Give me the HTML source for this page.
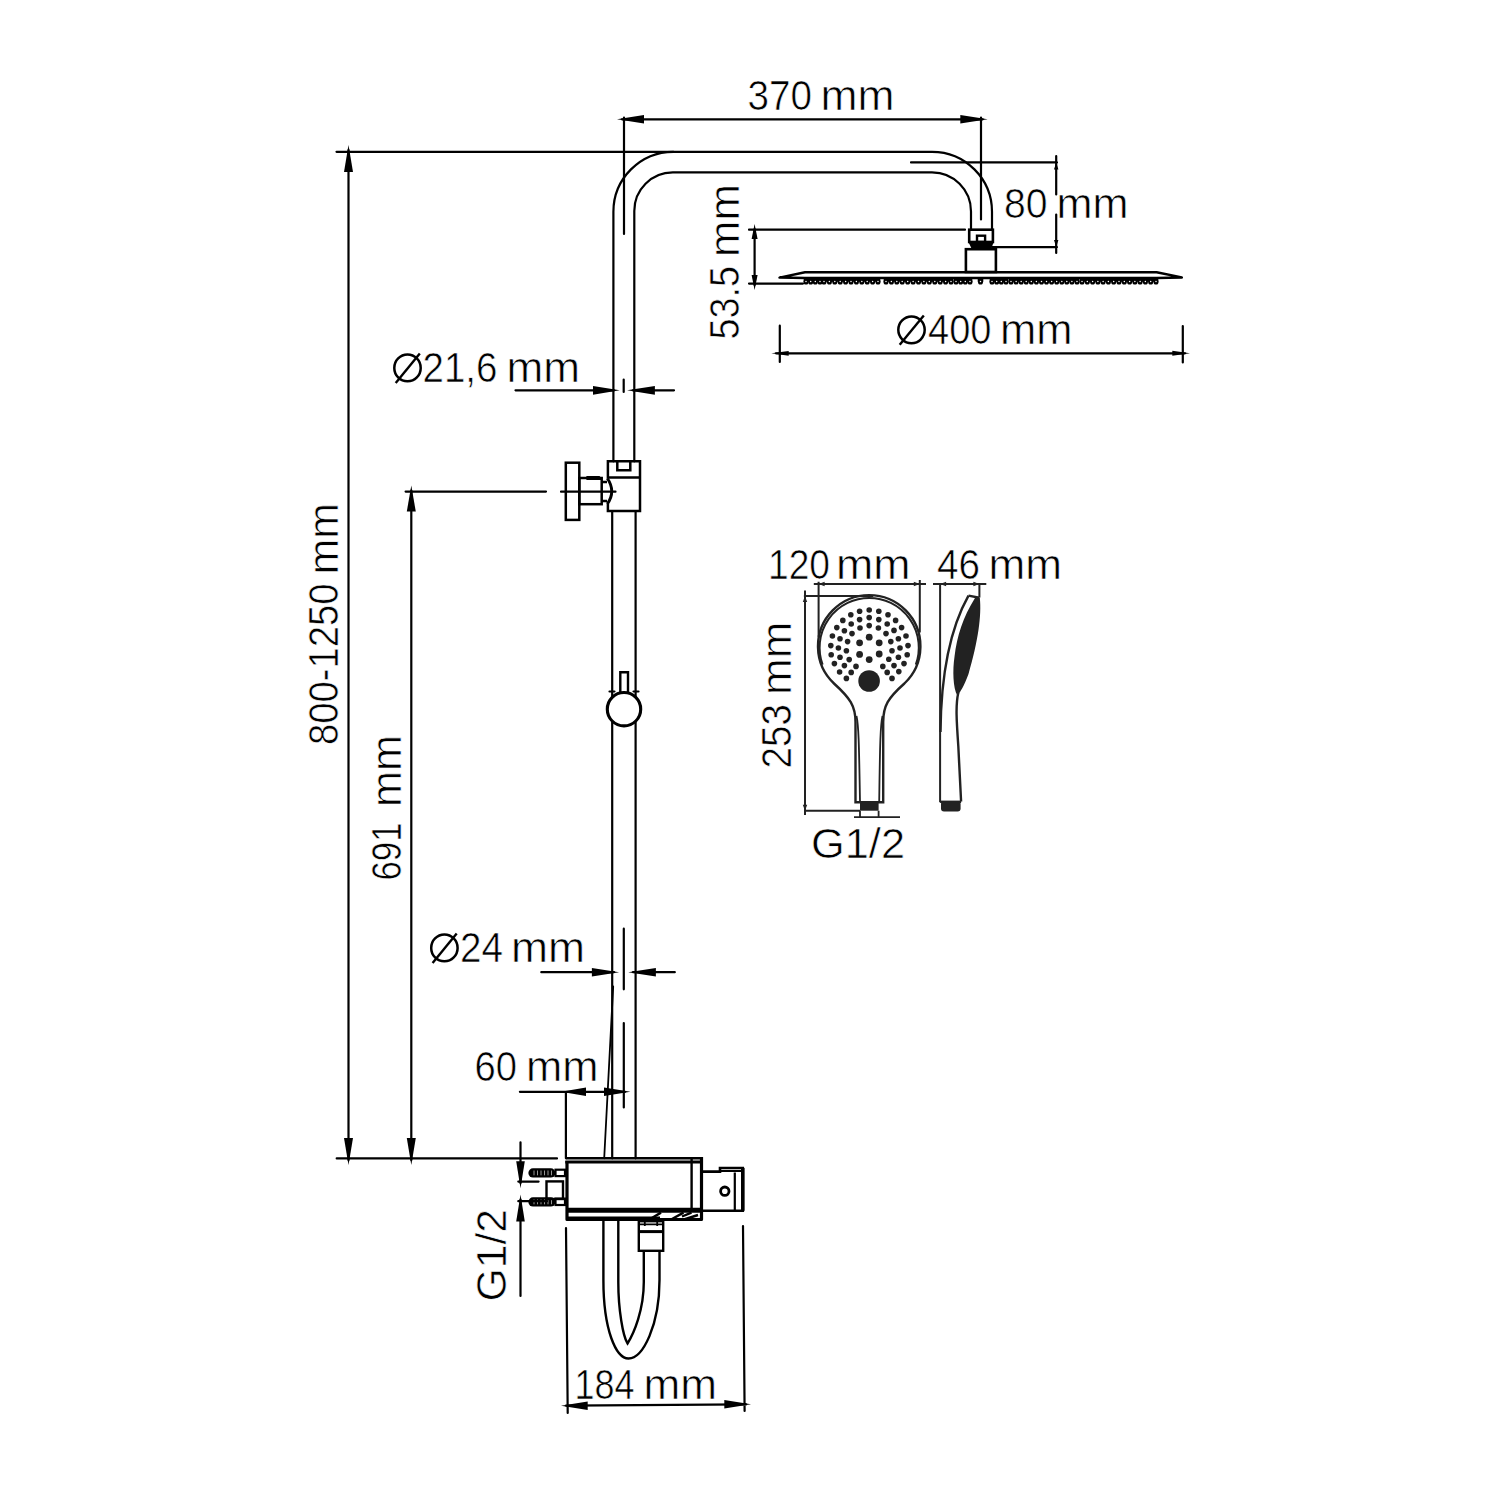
<!DOCTYPE html>
<html><head><meta charset="utf-8"><title>Shower system drawing</title>
<style>
html,body{margin:0;padding:0;background:#fff;width:1500px;height:1500px;overflow:hidden;}
svg{display:block;}
text{font-family:"Liberation Sans",sans-serif;font-size:40px;fill:#000;stroke:#fff;stroke-width:0.6px;}
.ln{fill:none;stroke:#000;stroke-width:2.2;stroke-linecap:round;}
.th{fill:none;stroke:#000;stroke-width:2.8;}
.ar{fill:#000;stroke:none;}
.hs{fill:none;stroke:#222;stroke-width:2.4;}
.hsf{fill:#222;stroke:none;}
</style></head><body>
<svg width="1500" height="1500" viewBox="0 0 1500 1500">
<rect x="0" y="0" width="1500" height="1500" fill="#fff"/>
<text transform="translate(747.50 110.00) scale(1 1.050)" x="0" y="0" textLength="64.50" lengthAdjust="spacingAndGlyphs">370</text>
<text transform="translate(820.50 110.00) scale(1 1.050)" x="0" y="0" textLength="74.00" lengthAdjust="spacingAndGlyphs">mm</text>
<text transform="translate(1004.00 218.00) scale(1 1.050)" x="0" y="0" textLength="43.50" lengthAdjust="spacingAndGlyphs">80</text>
<text transform="translate(1056.50 218.00) scale(1 1.050)" x="0" y="0" textLength="72.00" lengthAdjust="spacingAndGlyphs">mm</text>
<text transform="translate(928.00 344.30) scale(1 1.050)" x="0" y="0" textLength="63.50" lengthAdjust="spacingAndGlyphs">400</text>
<text transform="translate(1000.00 344.30) scale(1 1.050)" x="0" y="0" textLength="72.50" lengthAdjust="spacingAndGlyphs">mm</text>
<text transform="translate(422.50 381.80) scale(1 1.050)" x="0" y="0" textLength="75.00" lengthAdjust="spacingAndGlyphs">21,6</text>
<text transform="translate(506.50 381.80) scale(1 1.050)" x="0" y="0" textLength="73.50" lengthAdjust="spacingAndGlyphs">mm</text>
<text transform="translate(460.00 961.80) scale(1 1.050)" x="0" y="0" textLength="43.00" lengthAdjust="spacingAndGlyphs">24</text>
<text transform="translate(511.00 961.80) scale(1 1.050)" x="0" y="0" textLength="74.00" lengthAdjust="spacingAndGlyphs">mm</text>
<text transform="translate(474.50 1080.60) scale(1 1.050)" x="0" y="0" textLength="42.50" lengthAdjust="spacingAndGlyphs">60</text>
<text transform="translate(526.00 1080.60) scale(1 1.050)" x="0" y="0" textLength="72.50" lengthAdjust="spacingAndGlyphs">mm</text>
<text transform="translate(574.50 1398.90) scale(1 1.050)" x="0" y="0" textLength="60.00" lengthAdjust="spacingAndGlyphs">184</text>
<text transform="translate(643.50 1398.90) scale(1 1.050)" x="0" y="0" textLength="73.50" lengthAdjust="spacingAndGlyphs">mm</text>
<text transform="translate(768.00 578.90) scale(1 1.050)" x="0" y="0" textLength="62.00" lengthAdjust="spacingAndGlyphs">120</text>
<text transform="translate(836.00 578.90) scale(1 1.050)" x="0" y="0" textLength="74.50" lengthAdjust="spacingAndGlyphs">mm</text>
<text transform="translate(937.00 578.90) scale(1 1.050)" x="0" y="0" textLength="43.00" lengthAdjust="spacingAndGlyphs">46</text>
<text transform="translate(988.50 578.90) scale(1 1.050)" x="0" y="0" textLength="73.50" lengthAdjust="spacingAndGlyphs">mm</text>
<text transform="translate(811.00 857.80) scale(1 1.050)" x="0" y="0" textLength="94.00" lengthAdjust="spacingAndGlyphs">G1/2</text>
<text transform="translate(739.00 339.50) rotate(-90) scale(1 1.050)" x="0" y="0" textLength="73.50" lengthAdjust="spacingAndGlyphs">53.5</text>
<text transform="translate(739.00 257.00) rotate(-90) scale(1 1.050)" x="0" y="0" textLength="73.00" lengthAdjust="spacingAndGlyphs">mm</text>
<text transform="translate(337.50 745.00) rotate(-90) scale(1 1.050)" x="0" y="0" textLength="161.50" lengthAdjust="spacingAndGlyphs">800-1250</text>
<text transform="translate(337.50 574.50) rotate(-90) scale(1 1.050)" x="0" y="0" textLength="71.50" lengthAdjust="spacingAndGlyphs">mm</text>
<text transform="translate(401.40 880.50) rotate(-90) scale(1 1.050)" x="0" y="0" textLength="58.00" lengthAdjust="spacingAndGlyphs">691</text>
<text transform="translate(401.40 807.00) rotate(-90) scale(1 1.050)" x="0" y="0" textLength="72.00" lengthAdjust="spacingAndGlyphs">mm</text>
<text transform="translate(790.50 768.50) rotate(-90) scale(1 1.050)" x="0" y="0" textLength="64.50" lengthAdjust="spacingAndGlyphs">253</text>
<text transform="translate(790.50 695.00) rotate(-90) scale(1 1.050)" x="0" y="0" textLength="73.50" lengthAdjust="spacingAndGlyphs">mm</text>
<text transform="translate(506.30 1301.50) rotate(-90) scale(1 1.050)" x="0" y="0" textLength="92.50" lengthAdjust="spacingAndGlyphs">G1/2</text>
<ellipse cx="911.5" cy="329.8" rx="13.2" ry="13.4" fill="none" stroke="#000" stroke-width="2.5"/>
<path d="M899.7 344.8 L923.8 315.5" stroke="#000" stroke-width="2.4"/>
<ellipse cx="407.5" cy="367.9" rx="13.2" ry="13.4" fill="none" stroke="#000" stroke-width="2.5"/>
<path d="M395.7 382.9 L419.8 353.6" stroke="#000" stroke-width="2.4"/>
<ellipse cx="444.4" cy="947.9" rx="13.2" ry="13.4" fill="none" stroke="#000" stroke-width="2.5"/>
<path d="M432.6 962.9 L456.7 933.6" stroke="#000" stroke-width="2.4"/>
<g class="ln">
<path d="M336.5 151.8 H673.4"/>
<path d="M613.4 461.3 V211.8 A60 60 0 0 1 673.4 151.8 H932 A60 60 0 0 1 992 211.8 V229.7"/>
<path d="M634.3 461.3 V211 A38.5 38.5 0 0 1 672.8 172.4 H932 A39 39 0 0 1 971 211.4 V229.7"/>
<path d="M612.2 511 V1158.3 M635.6 511 V1158.3"/>
<path d="M623.7 379.5 V392 M623.8 928.7 V989.3 M623.8 1023 V1107.5"/>
<path d="M613.2 986.5 L604.2 1158.3" style="stroke-width:1.8"/>
</g>
<g class="ln"><path d="M622 119.3 H982.7 M624 117.5 V234 M981 117.5 V219.5"/></g>
<polygon points="617.0,119.3 644.0,115.0 644.0,123.6" class="ar"/>
<polygon points="987.7,119.3 960.3,115.0 960.3,123.6" class="ar"/>
<g class="ln"><path d="M911 162.4 H1057 M1056.2 156 V194.5 M1056.2 214.5 V253 M992 247.1 H1057"/></g>
<polygon points="1056.2,162.4 1054.0,169.4 1058.4,169.4" class="ar"/>
<polygon points="1056.2,247.1 1054.0,240.1 1058.4,240.1" class="ar"/>
<g class="ln"><path d="M749 229.7 H965 M749 283.6 H803 M754.6 229 V285"/></g>
<polygon points="754.6,224.0 751.6,239.0 757.6,239.0" class="ar"/>
<polygon points="754.6,290.0 751.6,275.0 757.6,275.0" class="ar"/>
<g class="th">
<rect x="969.2" y="229.7" width="23.7" height="12.3" style="stroke-width:2.6"/>
<rect x="977" y="235.7" width="8.1" height="6.3" style="stroke-width:2.4"/>
</g>
<polygon class="ar" points="968,241 994,241 991.4,248.5 971.5,248.5"/>
<rect class="th" x="965.9" y="249.2" width="30" height="22.8" style="stroke-width:2.6"/>
<path class="th" d="M779.5 277.6 L805 272.2 H1156.6 L1181.8 277.4 L1156.6 278.1 H805 Z" style="stroke-width:2.5;stroke-linejoin:round"/>
<rect x="803.7" y="278.5" width="18.6" height="3.3" fill="#000"/>
<rect x="821.7" y="278.5" width="58.6" height="3.3" fill="#000"/>
<rect x="883.7" y="278.5" width="69.6" height="3.3" fill="#000"/>
<rect x="953.7" y="278.5" width="18.6" height="3.3" fill="#000"/>
<rect x="977.7" y="278.5" width="5.6" height="3.3" fill="#000"/>
<rect x="989.7" y="278.5" width="18.6" height="3.3" fill="#000"/>
<rect x="1008.7" y="278.5" width="70.6" height="3.3" fill="#000"/>
<rect x="1079.7" y="278.5" width="78.6" height="3.3" fill="#000"/>
<g fill="#000"><circle cx="806.0" cy="281.9" r="2.55"/><circle cx="810.7" cy="281.9" r="2.55"/><circle cx="815.3" cy="281.9" r="2.55"/><circle cx="820.0" cy="281.9" r="2.55"/><circle cx="824.0" cy="281.9" r="2.55"/><circle cx="829.4" cy="281.9" r="2.55"/><circle cx="834.8" cy="281.9" r="2.55"/><circle cx="840.2" cy="281.9" r="2.55"/><circle cx="845.6" cy="281.9" r="2.55"/><circle cx="851.0" cy="281.9" r="2.55"/><circle cx="856.4" cy="281.9" r="2.55"/><circle cx="861.8" cy="281.9" r="2.55"/><circle cx="867.2" cy="281.9" r="2.55"/><circle cx="872.6" cy="281.9" r="2.55"/><circle cx="878.0" cy="281.9" r="2.55"/><circle cx="886.0" cy="281.9" r="2.55"/><circle cx="891.4" cy="281.9" r="2.55"/><circle cx="896.8" cy="281.9" r="2.55"/><circle cx="902.2" cy="281.9" r="2.55"/><circle cx="907.7" cy="281.9" r="2.55"/><circle cx="913.1" cy="281.9" r="2.55"/><circle cx="918.5" cy="281.9" r="2.55"/><circle cx="923.9" cy="281.9" r="2.55"/><circle cx="929.3" cy="281.9" r="2.55"/><circle cx="934.8" cy="281.9" r="2.55"/><circle cx="940.2" cy="281.9" r="2.55"/><circle cx="945.6" cy="281.9" r="2.55"/><circle cx="951.0" cy="281.9" r="2.55"/><circle cx="956.0" cy="281.9" r="2.55"/><circle cx="960.7" cy="281.9" r="2.55"/><circle cx="965.3" cy="281.9" r="2.55"/><circle cx="970.0" cy="281.9" r="2.55"/><circle cx="980.5" cy="281.9" r="2.55"/><circle cx="992.0" cy="281.9" r="2.55"/><circle cx="996.7" cy="281.9" r="2.55"/><circle cx="1001.3" cy="281.9" r="2.55"/><circle cx="1006.0" cy="281.9" r="2.55"/><circle cx="1011.0" cy="281.9" r="2.55"/><circle cx="1016.1" cy="281.9" r="2.55"/><circle cx="1021.2" cy="281.9" r="2.55"/><circle cx="1026.2" cy="281.9" r="2.55"/><circle cx="1031.3" cy="281.9" r="2.55"/><circle cx="1036.4" cy="281.9" r="2.55"/><circle cx="1041.5" cy="281.9" r="2.55"/><circle cx="1046.5" cy="281.9" r="2.55"/><circle cx="1051.6" cy="281.9" r="2.55"/><circle cx="1056.7" cy="281.9" r="2.55"/><circle cx="1061.8" cy="281.9" r="2.55"/><circle cx="1066.8" cy="281.9" r="2.55"/><circle cx="1071.9" cy="281.9" r="2.55"/><circle cx="1077.0" cy="281.9" r="2.55"/><circle cx="1082.0" cy="281.9" r="2.55"/><circle cx="1087.3" cy="281.9" r="2.55"/><circle cx="1092.6" cy="281.9" r="2.55"/><circle cx="1097.9" cy="281.9" r="2.55"/><circle cx="1103.1" cy="281.9" r="2.55"/><circle cx="1108.4" cy="281.9" r="2.55"/><circle cx="1113.7" cy="281.9" r="2.55"/><circle cx="1119.0" cy="281.9" r="2.55"/><circle cx="1124.3" cy="281.9" r="2.55"/><circle cx="1129.6" cy="281.9" r="2.55"/><circle cx="1134.9" cy="281.9" r="2.55"/><circle cx="1140.1" cy="281.9" r="2.55"/><circle cx="1145.4" cy="281.9" r="2.55"/><circle cx="1150.7" cy="281.9" r="2.55"/><circle cx="1156.0" cy="281.9" r="2.55"/></g>
<g fill="#fff"><circle cx="806.0" cy="281.5" r="0.75"/><circle cx="810.7" cy="281.5" r="0.75"/><circle cx="815.3" cy="281.5" r="0.75"/><circle cx="820.0" cy="281.5" r="0.75"/><circle cx="824.0" cy="281.5" r="0.75"/><circle cx="829.4" cy="281.5" r="0.75"/><circle cx="834.8" cy="281.5" r="0.75"/><circle cx="840.2" cy="281.5" r="0.75"/><circle cx="845.6" cy="281.5" r="0.75"/><circle cx="851.0" cy="281.5" r="0.75"/><circle cx="856.4" cy="281.5" r="0.75"/><circle cx="861.8" cy="281.5" r="0.75"/><circle cx="867.2" cy="281.5" r="0.75"/><circle cx="872.6" cy="281.5" r="0.75"/><circle cx="878.0" cy="281.5" r="0.75"/><circle cx="886.0" cy="281.5" r="0.75"/><circle cx="891.4" cy="281.5" r="0.75"/><circle cx="896.8" cy="281.5" r="0.75"/><circle cx="902.2" cy="281.5" r="0.75"/><circle cx="907.7" cy="281.5" r="0.75"/><circle cx="913.1" cy="281.5" r="0.75"/><circle cx="918.5" cy="281.5" r="0.75"/><circle cx="923.9" cy="281.5" r="0.75"/><circle cx="929.3" cy="281.5" r="0.75"/><circle cx="934.8" cy="281.5" r="0.75"/><circle cx="940.2" cy="281.5" r="0.75"/><circle cx="945.6" cy="281.5" r="0.75"/><circle cx="951.0" cy="281.5" r="0.75"/><circle cx="956.0" cy="281.5" r="0.75"/><circle cx="960.7" cy="281.5" r="0.75"/><circle cx="965.3" cy="281.5" r="0.75"/><circle cx="970.0" cy="281.5" r="0.75"/><circle cx="980.5" cy="281.5" r="0.75"/><circle cx="992.0" cy="281.5" r="0.75"/><circle cx="996.7" cy="281.5" r="0.75"/><circle cx="1001.3" cy="281.5" r="0.75"/><circle cx="1006.0" cy="281.5" r="0.75"/><circle cx="1011.0" cy="281.5" r="0.75"/><circle cx="1016.1" cy="281.5" r="0.75"/><circle cx="1021.2" cy="281.5" r="0.75"/><circle cx="1026.2" cy="281.5" r="0.75"/><circle cx="1031.3" cy="281.5" r="0.75"/><circle cx="1036.4" cy="281.5" r="0.75"/><circle cx="1041.5" cy="281.5" r="0.75"/><circle cx="1046.5" cy="281.5" r="0.75"/><circle cx="1051.6" cy="281.5" r="0.75"/><circle cx="1056.7" cy="281.5" r="0.75"/><circle cx="1061.8" cy="281.5" r="0.75"/><circle cx="1066.8" cy="281.5" r="0.75"/><circle cx="1071.9" cy="281.5" r="0.75"/><circle cx="1077.0" cy="281.5" r="0.75"/><circle cx="1082.0" cy="281.5" r="0.75"/><circle cx="1087.3" cy="281.5" r="0.75"/><circle cx="1092.6" cy="281.5" r="0.75"/><circle cx="1097.9" cy="281.5" r="0.75"/><circle cx="1103.1" cy="281.5" r="0.75"/><circle cx="1108.4" cy="281.5" r="0.75"/><circle cx="1113.7" cy="281.5" r="0.75"/><circle cx="1119.0" cy="281.5" r="0.75"/><circle cx="1124.3" cy="281.5" r="0.75"/><circle cx="1129.6" cy="281.5" r="0.75"/><circle cx="1134.9" cy="281.5" r="0.75"/><circle cx="1140.1" cy="281.5" r="0.75"/><circle cx="1145.4" cy="281.5" r="0.75"/><circle cx="1150.7" cy="281.5" r="0.75"/><circle cx="1156.0" cy="281.5" r="0.75"/></g>
<g class="ln"><path d="M776 353.3 H1185 M779.8 325.7 V362 M1182.8 326 V362.5"/></g>
<polygon points="771.3,353.3 788.7,350.9 788.7,355.7" class="ar"/>
<polygon points="1190.0,353.3 1172.3,350.8 1172.3,355.8" class="ar"/>
<g class="ln"><path d="M515.5 390.3 H614 M633 390.3 H674"/></g>
<polygon points="619.7,390.3 593.0,385.9 593.0,394.7" class="ar"/>
<polygon points="627.1,390.3 654.9,385.9 654.9,394.7" class="ar"/>
<g class="th" style="stroke-width:2.5">
<path d="M607.9 478.5 V461.3 H640 V511 H607.9 V503.5"/>
<path d="M607.9 477.4 H640 M617.3 461.3 V470.2 H630.3 V461.3"/>
<rect x="565.8" y="462.7" width="13.5" height="57.2"/>
<rect x="579.3" y="478" width="22.4" height="26.2"/>
<path d="M601.7 481.9 H607 M601.7 500.9 H607"/>
<path d="M607.3 478.3 Q616.2 491.5 607.3 504" style="stroke-width:2.9"/>
</g>
<polygon class="ar" points="586.4,476 599.5,476 601.8,478.6 601.8,480 586.4,480"/>
<g class="ln"><path d="M561 491.7 H615.5 M405.6 491.6 H546"/></g>
<circle cx="624" cy="709.2" r="16.7" fill="#fff" stroke="#000" stroke-width="3.1"/>
<path d="M620.3 692 V672.3 H628 V692" fill="none" stroke="#000" stroke-width="2.4"/>
<g class="ln"><path d="M609.5 691.5 H614.5 M633.5 691.5 H638.5"/></g>
<g class="ln"><path d="M348.5 150 V1160 M411.3 490.6 V1160 M336.7 1158.4 H557"/></g>
<polygon points="348.5,145.0 344.0,172.0 353.0,172.0" class="ar"/>
<polygon points="348.5,1165.0 344.0,1138.0 353.0,1138.0" class="ar"/>
<polygon points="411.3,485.6 406.8,511.6 415.8,511.6" class="ar"/>
<polygon points="411.3,1165.0 406.8,1138.0 415.8,1138.0" class="ar"/>
<g class="ln"><path d="M541.3 972.2 H614 M633 972.2 H674.8"/></g>
<polygon points="619.1,972.2 591.9,967.9 591.9,976.5" class="ar"/>
<polygon points="628.2,972.2 655.9,967.9 655.9,976.5" class="ar"/>
<g class="ln"><path d="M519.9 1091.8 H625 M565.9 1091.8 V1158.3"/></g>
<polygon points="561.0,1091.8 586.0,1087.5 586.0,1096.1" class="ar"/>
<polygon points="630.4,1091.8 604.0,1087.5 604.0,1096.1" class="ar"/>
<g class="th">
<path d="M566 1158.3 H702" style="stroke-width:2.4"/>
<path d="M565.3 1162 H701.5" style="stroke-width:3.2"/>
<path d="M567 1161 V1219.5 H701.5 V1157" style="stroke-width:3.2;stroke-linejoin:round"/>
<path d="M691.6 1158.3 V1208.4" style="stroke-width:2.4"/>
<path d="M567 1210.2 H701.5" style="stroke-width:5"/>
<path d="M567 1218.6 H660" style="stroke-width:4.2"/>
<path d="M651 1218.5 L661 1212.6 M683.5 1212.6 L672 1219 M682 1216.5 L691.5 1212.6 M684 1219.5 L698 1215" style="stroke-width:2.4"/>
<path d="M701.5 1171.6 H720 V1168 H742.8 V1210.8 H701.5" style="stroke-width:2.6"/>
<path d="M734.8 1172.4 V1210.8 M720 1171 H742" style="stroke-width:2.2"/>
<path d="M742.8 1168 V1210.8" style="stroke-width:3.6"/>
<circle cx="724.8" cy="1191.2" r="4.2" style="stroke-width:2.8"/>
</g>
<rect class="ar" x="528.4" y="1168.3" width="27" height="9.2" rx="4.6"/>
<rect class="ar" x="528.4" y="1197.3" width="27" height="9.2" rx="4.6"/>
<g stroke="#bbb" stroke-width="0.8"><path d="M534.0 1170.5 V1175.3 M534.0 1199.5 V1204.3"/><path d="M537.5 1170.5 V1175.3 M537.5 1199.5 V1204.3"/><path d="M541.0 1170.5 V1175.3 M541.0 1199.5 V1204.3"/><path d="M544.5 1170.5 V1175.3 M544.5 1199.5 V1204.3"/><path d="M548.0 1170.5 V1175.3 M548.0 1199.5 V1204.3"/><path d="M551.5 1170.5 V1175.3 M551.5 1199.5 V1204.3"/></g>
<g class="ln"><rect x="555.5" y="1169.7" width="9.5" height="6.4"/><rect x="555.5" y="1198.6" width="9.5" height="6.4"/>
<rect x="546.5" y="1181.4" width="16.5" height="17.6" style="stroke-width:2.4"/></g>
<g class="ln"><path d="M520.5 1142.3 V1183 M520.5 1199.6 V1295.9 M518.3 1181.6 H538.6 M518.3 1201.2 H547"/></g>
<polygon points="520.5,1188.2 516.2,1161.2 524.8,1161.2" class="ar"/>
<polygon points="520.5,1194.6 516.2,1221.6 524.8,1221.6" class="ar"/>
<g class="th" style="stroke-width:2.4">
<path d="M603.4 1220 V1280 C603.4 1330 616 1358.5 628.5 1358.5 C643 1358.5 659.5 1325 659.5 1280 V1251"/>
<path d="M618.3 1220 V1282 C618.3 1310 623 1336 627.5 1343.5 C634 1333 643.8 1310 643.8 1282 V1251"/>
<rect x="638.8" y="1221.2" width="24.4" height="29.6"/>
<path d="M638.8 1231.6 H663.2" style="stroke-width:3"/>
<path d="M638.8 1224.4 H663.2 M644.8 1221.2 V1226 M657.2 1221.2 V1226" style="stroke-width:1.8"/>
</g>
<g class="ln"><path d="M566 1405.6 L746 1404.4 M566 1228 L567.7 1413 M743 1226 L744.6 1411"/></g>
<polygon points="561.0,1405.7 587.7,1401.4 587.7,1410.0" class="ar"/>
<polygon points="751.0,1404.3 724.3,1400.0 724.3,1408.6" class="ar"/>
<g class="hs">
<path d="M855.5 802.2 V722 C855.5 706 850 698 834 683.5 A51.2 51.2 0 1 1 904.4 683.5 C888 698 883.2 706 883.2 722 V802.2 Z"/>
<path d="M822.6 664.6 A49.6 49.6 0 1 1 915.8 664.6" style="stroke-width:2"/>
<path d="M856.5 716 C858.5 725 859 740 860 802 M882.5 716 C880.5 725 880 740 879.2 802" style="stroke-width:1.8"/>
</g>
<rect class="hsf" x="860" y="802" width="18.6" height="8.7"/>
<g class="hs" style="stroke-width:1.8"><path d="M860 810.7 V817.7 M878.6 810.7 V817.7 M854 817.1 H900"/></g>
<circle class="hsf" cx="859.6" cy="611.2" r="2.8"/>
<circle class="hsf" cx="869.2" cy="610.0" r="2.8"/>
<circle class="hsf" cx="878.8" cy="611.2" r="2.8"/>
<circle class="hsf" cx="850.8" cy="614.8" r="2.8"/>
<circle class="hsf" cx="888.0" cy="614.8" r="2.8"/>
<circle class="hsf" cx="859.6" cy="619.6" r="2.8"/>
<circle class="hsf" cx="869.2" cy="617.6" r="2.8"/>
<circle class="hsf" cx="878.8" cy="619.6" r="2.8"/>
<circle class="hsf" cx="842.8" cy="620.4" r="2.8"/>
<circle class="hsf" cx="895.6" cy="620.4" r="2.8"/>
<circle class="hsf" cx="851.2" cy="624.0" r="2.8"/>
<circle class="hsf" cx="887.2" cy="624.0" r="2.8"/>
<circle class="hsf" cx="860.0" cy="628.0" r="2.8"/>
<circle class="hsf" cx="869.2" cy="625.6" r="2.8"/>
<circle class="hsf" cx="878.4" cy="628.0" r="2.8"/>
<circle class="hsf" cx="836.8" cy="627.6" r="2.8"/>
<circle class="hsf" cx="901.6" cy="627.6" r="2.8"/>
<circle class="hsf" cx="844.4" cy="630.8" r="2.8"/>
<circle class="hsf" cx="894.0" cy="630.4" r="2.8"/>
<circle class="hsf" cx="852.0" cy="633.6" r="2.8"/>
<circle class="hsf" cx="886.0" cy="633.6" r="2.8"/>
<circle class="hsf" cx="832.4" cy="636.0" r="2.8"/>
<circle class="hsf" cx="906.0" cy="636.0" r="2.8"/>
<circle class="hsf" cx="840.0" cy="638.8" r="2.8"/>
<circle class="hsf" cx="898.4" cy="638.8" r="2.8"/>
<circle class="hsf" cx="847.6" cy="641.6" r="2.8"/>
<circle class="hsf" cx="890.8" cy="641.6" r="2.8"/>
<circle class="hsf" cx="830.8" cy="645.6" r="2.8"/>
<circle class="hsf" cx="908.0" cy="645.6" r="2.8"/>
<circle class="hsf" cx="838.4" cy="648.0" r="2.8"/>
<circle class="hsf" cx="900.0" cy="648.0" r="2.8"/>
<circle class="hsf" cx="846.4" cy="650.8" r="2.8"/>
<circle class="hsf" cx="892.0" cy="650.8" r="2.8"/>
<circle class="hsf" cx="831.2" cy="654.8" r="2.8"/>
<circle class="hsf" cx="907.2" cy="654.8" r="2.8"/>
<circle class="hsf" cx="840.0" cy="657.2" r="2.8"/>
<circle class="hsf" cx="898.4" cy="657.2" r="2.8"/>
<circle class="hsf" cx="849.2" cy="659.6" r="2.8"/>
<circle class="hsf" cx="888.8" cy="659.2" r="2.8"/>
<circle class="hsf" cx="834.4" cy="663.6" r="2.8"/>
<circle class="hsf" cx="904.0" cy="663.6" r="2.8"/>
<circle class="hsf" cx="844.4" cy="665.6" r="2.8"/>
<circle class="hsf" cx="894.0" cy="665.6" r="2.8"/>
<circle class="hsf" cx="856.0" cy="666.4" r="2.8"/>
<circle class="hsf" cx="882.8" cy="666.4" r="2.8"/>
<circle class="hsf" cx="839.6" cy="672.0" r="2.8"/>
<circle class="hsf" cx="898.8" cy="671.6" r="2.8"/>
<circle class="hsf" cx="851.2" cy="672.4" r="2.8"/>
<circle class="hsf" cx="887.2" cy="672.4" r="2.8"/>
<circle class="hsf" cx="846.4" cy="678.4" r="2.8"/>
<circle class="hsf" cx="892.0" cy="678.4" r="2.8"/>
<circle class="hsf" cx="869.2" cy="637.2" r="3.4"/>
<circle class="hsf" cx="859.6" cy="642.8" r="3.4"/>
<circle class="hsf" cx="879.2" cy="642.8" r="3.4"/>
<circle class="hsf" cx="859.6" cy="654.4" r="3.4"/>
<circle class="hsf" cx="879.2" cy="654.0" r="3.4"/>
<circle class="hsf" cx="869.2" cy="659.6" r="3.4"/>
<circle class="hsf" cx="869.1" cy="681" r="10.8"/>
<g class="hs" style="stroke-width:2">
<path d="M813.8 584 H926 M818.6 581.8 V636.8 M919.8 580 V632.4"/>
<path d="M933 584 H986.3 M940.1 584 V802.2 M979.4 584 V597.5"/>
<path d="M805 590.6 V814.9 M803.9 596 H873.2 M805 810.7 H860"/>
</g>
<polygon points="818.6,584.0 824.6,581.8 824.6,586.2" class="hsf"/>
<polygon points="919.8,584.0 913.8,581.8 913.8,586.2" class="hsf"/>
<polygon points="940.1,584.0 946.1,581.8 946.1,586.2" class="hsf"/>
<polygon points="979.4,584.0 973.4,581.8 973.4,586.2" class="hsf"/>
<polygon points="805.0,596.0 802.8,602.0 807.2,602.0" class="hsf"/>
<polygon points="805.0,810.7 802.8,804.7 807.2,804.7" class="hsf"/>
<g class="hs">
<path d="M968.5 595.6 C952 625 941 670 940.5 732"/>
<path d="M968.5 595.6 L979.4 597.7"/>
<path d="M958.3 692.8 C955.5 705 956.5 720 958.3 746 L961.1 801.5"/>
<path d="M940.1 801.8 H961.1"/>
</g>
<path class="hsf" d="M975 598 L979.8 598 C981.8 615 978 642 968.5 674 C964 686 960.5 692 957.3 695.6 C953 688 952.5 670 954.5 656.7 C957 636 963 617 975 598 Z"/>
<rect class="hsf" x="941" y="801" width="19.6" height="10.4" rx="3"/>
</svg></body></html>
